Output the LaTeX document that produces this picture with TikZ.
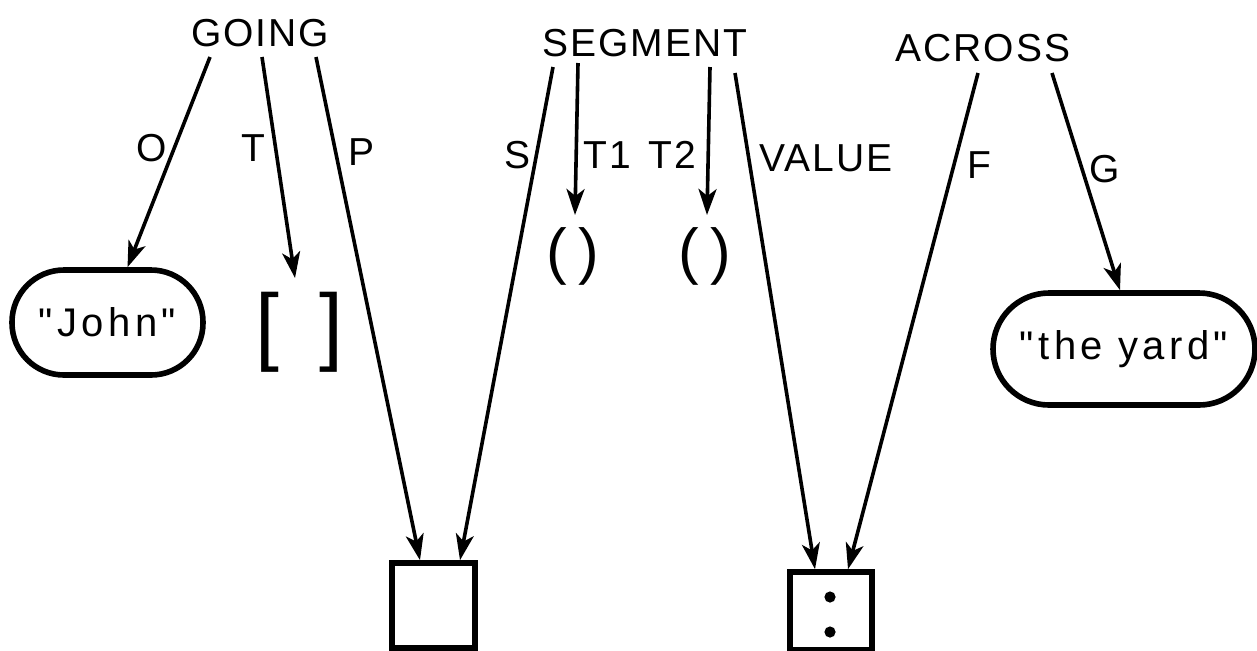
\documentclass[tikz,border=0pt]{standalone}
\usepackage{fontspec}
\setmainfont{Liberation Sans}[LetterSpace=5,Ligatures=TeXOff]
\newfontfamily\symfont{Liberation Sans}
\newfontfamily\quotefont{Liberation Sans}[LetterSpace=11,Ligatures=TeXOff]
\usetikzlibrary{arrows.meta,calc}
\begin{document}
\begin{tikzpicture}[x=0.5pt,y=-0.5pt,
  txt/.style={font=\fontsize{19.5}{22}\selectfont, inner sep=0pt},
  arr/.style={line width=1.8pt, -{Stealth[length=13pt,width=9pt,inset=3.5pt]}},
  bx/.style={draw, line width=2.8pt, inner sep=0pt},
  pill/.style={draw, line width=2.8pt, inner sep=0pt, font=\quotefont\fontsize{20}{22}\selectfont},
  sym/.style={inner sep=0pt}]
\useasboundingbox (0,0) rectangle (1257,650);

% head words
\node[txt] (going) at (260,33) {GOING};
\node[txt] (segment) at (645,43) {SEGMENT};
\node[txt] (across) at (983,48) {ACROSS};

% targets
\node[pill, rounded corners=26pt, minimum width=95.5pt, minimum height=52.5pt] (john) at (107.5,322.5) {"John"};
\node[sym, font=\symfont\fontsize{43}{45}\selectfont] (brk) at (299,332) {[\kern20pt]};
\node[sym, font=\symfont\fontsize{31}{33}\selectfont] (parA) at (573,256) {(\kern6pt)};
\node[sym, font=\symfont\fontsize{31}{33}\selectfont] (parB) at (705,256) {(\kern6pt)};
\node[pill, rounded corners=28pt, minimum width=131pt, minimum height=56pt] (yard) at (1124,349) {"the yard"};
\node[bx, minimum width=41.5pt, minimum height=42.5pt] (boxA) at (433.5,605.5) {};
\node[bx, minimum width=41pt, minimum height=39pt] (boxB) at (831,611) {};
\fill (830,597) circle[radius=2.8pt];
\fill (830,632) circle[radius=2.8pt];

% start points
\coordinate (gO) at (210,57);
\coordinate (gT) at (262,57);
\coordinate (gP) at (316,57);
\coordinate (sS) at (553,67);
\coordinate (sT1) at (578,63);
\coordinate (sT2) at (710,67);
\coordinate (sV) at (735,73);
\coordinate (aF) at (978,73);
\coordinate (aG) at (1052,73);
\coordinate (brkTop) at (295,278);
\coordinate (parATop) at (575,215);
\coordinate (parBTop) at (707,215);

% connectors
\draw[arr] (gO) -- ($(john.north)+(20,0)$);
\draw[arr] (gT) -- (brkTop);
\draw[arr] (gP) -- ($(boxA.north)+(-13.5,0)$);
\draw[arr] (sS) -- ($(boxA.north)+(26.5,0)$);
\draw[arr] (sT1) -- (parATop);
\draw[arr] (sT2) -- (parBTop);
\draw[arr] (sV) -- ($(boxB.north)+(-16,0)$);
\draw[arr] (aF) -- ($(boxB.north)+(17,0)$);
\draw[arr] (aG) -- ($(yard.north)+(-4,0)$);

% labels
\node[txt] (lO) at (152,148) {O};
\node[txt] (lT) at (253,148) {T};
\node[txt] (lP) at (362,152) {P};
\node[txt] (lS) at (517,155) {S};
\node[txt] (lT1) at (607,155) {T1};
\node[txt] (lT2) at (672,155) {T2};
\node[txt] (lV) at (826,158) {VALUE};
\node[txt] (lF) at (979,165) {F};
\node[txt] (lG) at (1105,169) {G};
\end{tikzpicture}
\end{document}
